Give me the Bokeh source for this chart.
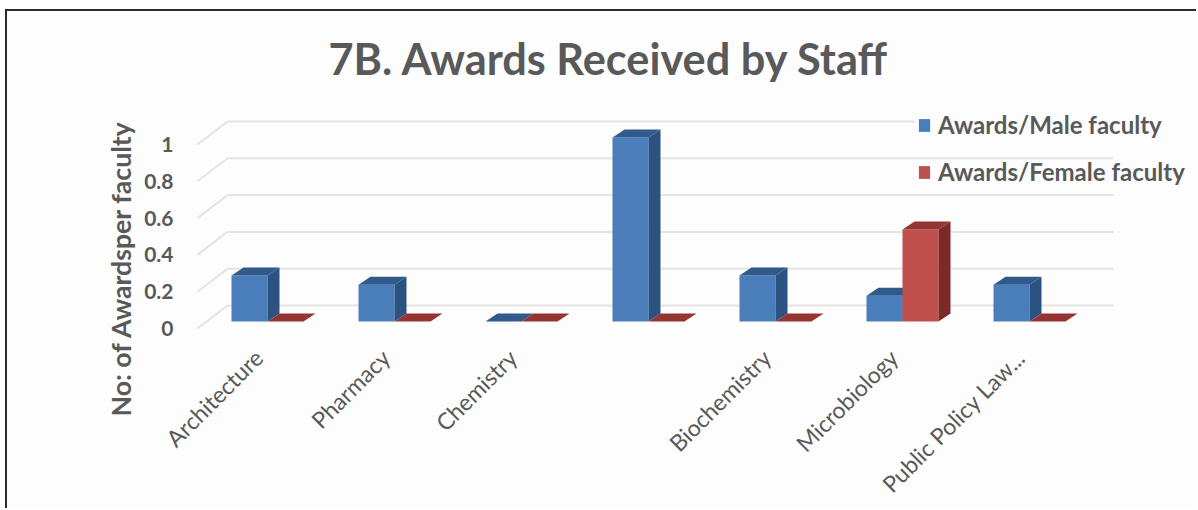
import math
from bokeh.embed import file_html
from bokeh.resources import INLINE
from bokeh.models import FixedTicker, Legend, LegendItem, Range1d, Title
from bokeh.plotting import figure

categories = ["Architecture", "Pharmacy", "Chemistry", "", "Biochemistry", "Microbiology", "Public Policy Law..."]
male = [0.25, 0.2, 0, 1, 0.25, 0.14, 0.2]
female = [0, 0, 0, 0, 0, 0.5, 0]
y_ticks = [0, 0.2, 0.4, 0.6, 0.8, 1]
title_text = "7B. Awards Received by Staff"
y_label = "No: of Awardsper faculty"
series_names = ["Awards/Male faculty", "Awards/Female faculty"]

BORDER = 2
OX, OY = 7, 11          # page position of the canvas
W, H = 1198 - OX, 510 - OY
L, R, T, B = 190, 1190, 93, 332   # frame, in page pixels
ZERO_X, ZERO_Y = 258, 328
UX, UY = 127, 184
px = lambda v: v / UX
py = lambda v: v / UY

GREY = "#595959"
FONT = "Lato"

p = figure(width=W, height=H, output_backend="svg", toolbar_location=None,
           margin=(OY - BORDER, 0, 0, OX - BORDER),
           x_range=Range1d(px(L - ZERO_X), px(R - ZERO_X)),
           y_range=Range1d(py(ZERO_Y - B), py(ZERO_Y - T)),
           min_border_left=L - OX, min_border_right=OX + W - R,
           min_border_top=T - OY, min_border_bottom=OY + H - B,
           background_fill_color="#fdfdfd", border_fill_color="#fdfdfd",
           outline_line_color=None)
p.grid.visible = False

p.title = Title(text=title_text, align="left", offset=138, standoff=20,
                text_font=FONT, text_font_size="43.3px", text_font_style="bold", text_color=GREY)

ax = p.yaxis[0]
ax.ticker = FixedTicker(ticks=y_ticks)
ax.axis_line_color = None
ax.major_tick_line_color = None
ax.minor_tick_line_color = None
ax.major_label_standoff = 11
ax.major_label_text_font = FONT
ax.major_label_text_font_size = "21px"
ax.major_label_text_font_style = "bold"
ax.major_label_text_color = GREY

p.add_layout(Title(text=y_label, align="left", offset=-84, standoff=9,
                   text_font=FONT, text_font_size="26.7px", text_font_style="bold",
                   text_color=GREY), "left")

xa = p.xaxis[0]
xa.ticker = FixedTicker(ticks=list(range(len(categories))))
xa.major_label_overrides = {i: c for i, c in enumerate(categories)}
xa.major_label_orientation = math.pi / 4
xa.axis_line_color = None
xa.major_tick_line_color = None
xa.minor_tick_line_color = None
xa.major_label_standoff = 15
xa.major_label_text_font = FONT
xa.major_label_text_font_size = "23px"
xa.major_label_text_color = GREY

# walls
WALL_DX, WALL_DY = px(30), py(23)
wall_x0 = px(197 - ZERO_X)
wall_end = px(1113 - ZERO_X)
legend_left = px(915 - ZERO_X)
grid_col = "#e4e4e4"
p.multi_line([[wall_x0, wall_x0 + WALL_DX] for _ in y_ticks],
             [[v, v + WALL_DY] for v in y_ticks], line_color=grid_col, line_width=2)
p.multi_line([[wall_x0 + WALL_DX, legend_left if v == max(y_ticks) else wall_end] for v in y_ticks],
             [[v + WALL_DY, v + WALL_DY] for v in y_ticks], line_color=grid_col, line_width=2)

# bars
OFF_X, OFF_Y = px(9), py(7)
BAR_W = px(36)
D_X, D_Y = px(12), py(8)


def draw(values, slot, front, side, top):
    x0s = [i + OFF_X + (slot - 1) * BAR_W for i in range(len(values))]
    x1s = [x + BAR_W for x in x0s]
    base = OFF_Y
    tops = [v + base for v in values]
    f = p.quad(left=x0s, right=x1s, bottom=[base] * len(values), top=tops,
               fill_color=front, line_color=None)
    p.patches([[x1, x1 + D_X, x1 + D_X, x1] for x1 in x1s],
              [[base, base + D_Y, t_ + D_Y, t_] for t_ in tops],
              fill_color=side, line_color=None)
    p.patches([[x0, x1, x1 + D_X, x0 + D_X] for x0, x1 in zip(x0s, x1s)],
              [[t_, t_, t_ + D_Y, t_ + D_Y] for t_ in tops],
              fill_color=top, line_color=None)
    return f


r_male = draw(male, 0, "#4a7ebb", "#2c5282", "#30598c")
r_female = draw(female, 1, "#c0504d", "#7c2a28", "#953432")

legend = Legend(items=[LegendItem(label=series_names[0], renderers=[r_male]),
                       LegendItem(label=series_names[1], renderers=[r_female])],
                location=(917 - L, 146), orientation="vertical",
                glyph_width=14, glyph_height=16, label_width=10, spacing=18,
                padding=0, margin=0, label_standoff=7,
                label_text_font=FONT, label_text_font_size="24px",
                label_text_font_style="bold", label_text_color=GREY,
                background_fill_alpha=0, border_line_color=None)
p.add_layout(legend, "center")

p.styles = {"border-left": f"{BORDER}px solid #2a2a2a", "border-top": f"{BORDER}px solid #2a2a2a"}

open("out.html", "w").write(file_html(p, INLINE))
